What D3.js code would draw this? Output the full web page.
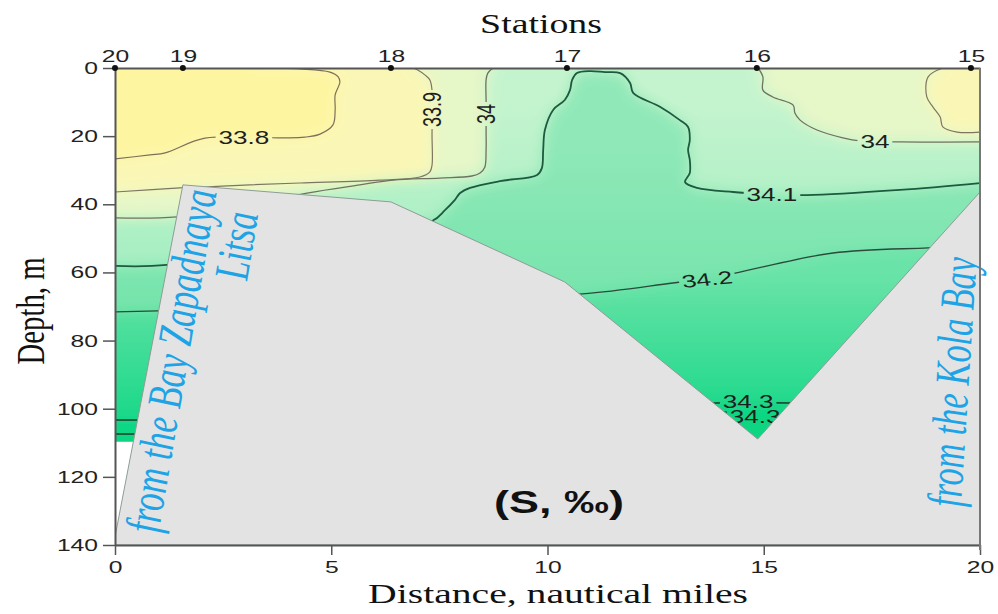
<!DOCTYPE html>
<html><head><meta charset="utf-8">
<script src="https://cdn.jsdelivr.net/npm/d3@7"></script>
<style>html,body{margin:0;padding:0;background:#fff;} svg{display:block;}</style>
</head><body>
<svg id="chart" width="998" height="614"></svg>
<script>
// ---------------- data (distance in nautical miles, depth in m) ----------------
const depthTicks = [0, 20, 40, 60, 80, 100, 120, 140];
const distanceTicks = [0, 5, 10, 15, 20];
const stationNames = ["20", "19", "18", "17", "16", "15"];
const stationDistances = [0, 1.57, 6.38, 10.45, 14.84, 19.79];
const bottomProfile = [[0, 137.6], [1.57, 34.3], [6.38, 39.3], [10.4, 62.8], [14.86, 108.9], [20, 36.4]];
const leftEdgeDataDepth = 109.7;

const iso33_8 = [[0,26.7],[0.81,25.5],[1.16,24.9],[2.08,20.6],[3.82,20.5],[4.39,20.3],[4.74,19.4],[5.04,16.7],[5.09,12.3],[5.09,7.9],[5.2,4.1],[5.16,2.6],[4.97,1.2],[4.28,0.3],[3.12,0]];
const iso33_9_west = [[0,36.4],[1.5,35.2],[2.61,34.6],[3.12,34.3],[4.28,33.75],[6.13,32.9],[7.05,32.0],[7.28,30.5],[7.33,28.5],[7.33,19.7],[7.33,6.5],[7.28,3.5],[7.17,2.1],[7.0,0.6],[6.89,0]];
const iso33_9_east = [[19.14,0],[18.8,2.6],[18.77,8.5],[18.91,11.4],[19.08,14.4],[19.14,17.3],[19.47,18.8],[20,18.8]];
const iso34_0_west = [[0,44.0],[1.43,43.7],[3.12,40.2],[4.44,36.7],[5.66,34.3],[6.43,32.9],[7.51,32.3],[8.25,31.7],[8.44,30.8],[8.55,29.1],[8.58,24.1],[8.58,18.2],[8.58,9.4],[8.58,3.5],[8.62,1.5],[8.74,0]];
const iso34_0_east = [[14.87,0],[14.98,2.6],[14.98,6.5],[15.21,8.5],[15.68,10.9],[15.72,13.2],[15.84,15.3],[16.23,18.2],[16.83,20.5],[17.23,21.4],[18.15,21.7],[20,21.7]];
const iso34_1 = [[0,58.1],[1.2,57.8],[4.28,50.5],[7.33,44.9],[7.63,41.7],[7.86,38.7],[7.98,36.7],[8.21,35.2],[8.9,33.2],[9.76,31.4],[9.87,29.4],[9.9,24.1],[9.94,18.2],[10.13,12.3],[10.4,9.4],[10.52,6.5],[10.57,3.5],[10.68,1.5],[10.98,0.9],[11.33,1.2],[11.68,1.5],[11.91,4.4],[11.98,7.3],[12.6,11.4],[13.06,15.3],[13.25,17.3],[13.29,21.1],[13.25,24.1],[13.29,27.0],[13.29,30.8],[13.18,33.5],[13.46,35.2],[14.29,36.4],[15.14,37.0],[16.0,37.3],[18.15,35.8],[20,33.8]];
const iso34_2 = [[0,71.6],[0.99,71.3],[6.59,68.1],[10.8,66.3],[12.9,63.1],[13.69,61.9],[14.45,59.9],[16.6,54.3],[18.8,52.8],[20,52.2]];
const iso34_3_upper = [[0,103.3],[0.46,103.3],[10,100],[13.9,98.3],[15.6,98.3],[20,98.3]];
const iso34_3_lower = [[0,107.4],[0.46,107.4],[10,104],[14.0,101.0],[16.0,101.0],[20,101.0]];

const contourLabelText = ["33.8", "33.9", "34", "34", "34.1", "34.2", "34.3", "34.3"];
const contourLabelDist = [2.98, 7.33, 8.57, 17.57, 15.19, 13.69, 14.64, 14.8];
const contourLabelDepth = [20.4, 12.2, 13.5, 21.7, 37.2, 62.0, 98.0, 102.2];

// ---------------- rendering ----------------
const SX = 1.45;       // horizontal stretch of the original picture
const W = 998, H = 614;
const svg = d3.select('#chart');
const x = d3.scaleLinear().domain([0, 20]).range([115, 980]);
const y = d3.scaleLinear().domain([0, 140]).range([68, 545]);

const defs = svg.append('defs');
defs.append('clipPath').attr('id', 'plotClip').append('rect')
  .attr('x', x(0)).attr('y', y(0)).attr('width', x(20) - x(0)).attr('height', y(140) - y(0));
const filt = defs.append('filter').attr('id', 'soft').attr('x', '-10%').attr('y', '-10%').attr('width', '120%').attr('height', '120%');
filt.append('feGaussianBlur').attr('stdDeviation', 7);
const mask = defs.append('mask').attr('id', 'lblMask').attr('maskUnits', 'userSpaceOnUse')
  .attr('x', 0).attr('y', 0).attr('width', W).attr('height', H);
mask.append('rect').attr('x', 0).attr('y', 0).attr('width', W).attr('height', H).attr('fill', '#fff');

function vGrad(id, d0, c0, d1, c1) {
  const g = defs.append('linearGradient').attr('id', id).attr('gradientUnits', 'userSpaceOnUse')
    .attr('x1', 0).attr('x2', 0).attr('y1', y(d0)).attr('y2', y(d1));
  g.append('stop').attr('offset', 0).attr('stop-color', c0);
  g.append('stop').attr('offset', 1).attr('stop-color', c1);
  return `url(#${id})`;
}

// fill bands
const bands = [
  { line: iso34_3_lower, side: 'both', color: '#10d785' },
  { line: iso34_3_upper, side: 'both', color: vGrad('g342', 60, '#6ae3a8', 104, '#18d888') },
  { line: iso34_2, side: 'both', color: vGrad('g341', 20, '#90e8b8', 70, '#76e4ac') },
  { line: iso34_1, side: 'both', color: vGrad('g340', 10, '#c4f4ce', 58, '#a6efc2') },
  { line: iso34_0_west, side: 'west', color: '#e6f7c8' },
  { line: iso34_0_east, side: 'east', color: '#e6f7c8' },
  { line: iso33_9_west, side: 'west', color: '#faf7b6' },
  { line: iso33_9_east, side: 'east', color: '#faf7b6' },
  { line: iso33_8, side: 'west', color: '#fef5a0' }
];
function closeBand(b) {
  const L = b.line, f = L[0], l = L[L.length - 1];
  if (b.side === 'both') return [[-2, f[1]], ...L, [22, l[1]], [22, -10], [-2, -10]];
  if (b.side === 'west') return [[-2, f[1]], ...L, [l[0], -10], [-2, -10]];
  return [[f[0], -10], ...L, [22, l[1]], [22, -10]];
}
const polyGen = d3.line().x(p => x(p[0])).y(p => y(p[1]));
const fillG = svg.append('g').attr('clip-path', 'url(#plotClip)');
const blurG = fillG.append('g').attr('filter', 'url(#soft)');
blurG.append('rect').attr('x', x(-2)).attr('y', y(-10)).attr('width', x(22) - x(-2)).attr('height', y(150) - y(-10)).attr('fill', '#08d582');
bands.forEach(b => blurG.append('path').attr('d', polyGen(closeBand(b)) + 'Z').attr('fill', b.color));

// white area below data at left edge
fillG.append('rect').attr('x', x(0)).attr('y', y(leftEdgeDataDepth))
  .attr('width', x(1.6) - x(0)).attr('height', y(140) - y(leftEdgeDataDepth)).attr('fill', '#fff');

// contour lines
const lineGen = d3.line().x(p => x(p[0])).y(p => y(p[1])).curve(d3.curveCatmullRom.alpha(0.5));
const lineStyles = [
  { line: iso33_8, stroke: '#7e7058', w: 1.2 },
  { line: iso33_9_west, stroke: '#7e7660', w: 1.2 },
  { line: iso33_9_east, stroke: '#7e7660', w: 1.2 },
  { line: iso34_0_west, stroke: '#6f7260', w: 1.3 },
  { line: iso34_0_east, stroke: '#6f7260', w: 1.3 },
  { line: iso34_1, stroke: '#1d5a3e', w: 1.8 },
  { line: iso34_2, stroke: '#2a4a3a', w: 1.3 },
  { line: iso34_3_upper, stroke: '#1e3a2c', w: 1.5 },
  { line: iso34_3_lower, stroke: '#1e3a2c', w: 1.5 }
];
const linesG = svg.append('g').attr('clip-path', 'url(#plotClip)').append('g').attr('mask', 'url(#lblMask)');
lineStyles.forEach(s => linesG.append('path').attr('d', lineGen(s.line)).attr('fill', 'none')
  .attr('stroke', s.stroke).attr('stroke-width', s.w).attr('stroke-linejoin', 'round'));

// contour labels
const labelAngles = [0, -90, -90, 0, 0, -8, 0, 0];
const labG = svg.append('g').attr('font-family', '"Liberation Sans", Arial, sans-serif').attr('font-size', 18).attr('fill', '#1e1e1e');
contourLabelText.forEach((t, i) => {
  const tf = `translate(${x(contourLabelDist[i])},${y(contourLabelDepth[i])}) scale(${SX},1) rotate(${labelAngles[i]})`;
  const el = labG.append('text').attr('transform', tf).attr('text-anchor', 'middle').attr('dy', '0.35em').text(t);
  const bb = el.node().getBBox();
  mask.append('rect').attr('transform', tf).attr('x', bb.x - 2).attr('y', bb.y + 1)
    .attr('width', bb.width + 4).attr('height', bb.height - 2).attr('fill', '#000');
});

// sea bottom
const bottomPoly = [[0, 140], ...bottomProfile, [20, 140]];
svg.append('path').attr('d', polyGen(bottomPoly) + 'Z').attr('fill', '#e3e3e3')
  .attr('stroke', '#8f9c95').attr('stroke-width', 1).attr('clip-path', 'url(#plotClip)');

// blue annotations
function sText(g, px, py, ang, str) {
  return g.append('text').attr('transform', `translate(${px},${py}) scale(${SX},1) rotate(${ang})`).text(str);
}
const blue = svg.append('g').attr('font-family', '"Liberation Serif", "Times New Roman", serif')
  .attr('font-style', 'italic').attr('font-size', 34).attr('fill', '#1ea3e6').attr('text-anchor', 'middle');
sText(blue, 173, 361, -83.3, 'from the Bay Zapadnaya').attr('dy', '0.3em').attr('textLength', 345).attr('lengthAdjust', 'spacingAndGlyphs');
sText(blue, 238, 246, -83.3, 'Litsa').attr('dy', '0.3em');
sText(blue, 954, 382, -87.5, 'from the Kola Bay').attr('dy', '0.3em').attr('textLength', 250).attr('lengthAdjust', 'spacingAndGlyphs');

// (S, ‰)
sText(svg, 559, 502, 0, '(S, ‰)').attr('font-family', '"Liberation Sans", Arial, sans-serif').attr('font-weight', 'bold')
  .attr('font-size', 31).attr('fill', '#111').attr('text-anchor', 'middle').attr('dy', '0.36em');

// axes
function stretchAxisText(g) {
  g.selectAll('.tick text').each(function () {
    const t = d3.select(this);
    const xx = +t.attr('x') || 0, yy = +t.attr('y') || 0;
    t.attr('x', 0).attr('y', 0).attr('transform', `translate(${xx},${yy}) scale(${SX},1)`);
  });
  g.selectAll('text').attr('font-family', '"Liberation Sans", Arial, sans-serif').attr('font-size', 17).attr('fill', '#222');
  g.attr('font-size', 17);
}
const gL = svg.append('g').attr('transform', `translate(${x(0)},0)`)
  .call(d3.axisLeft(y).tickValues(depthTicks).tickSize(12).tickSizeOuter(0).tickPadding(5));
const gB = svg.append('g').attr('transform', `translate(0,${y(140)})`)
  .call(d3.axisBottom(x).tickValues(distanceTicks).tickSize(10).tickSizeOuter(0).tickPadding(6));
const gT = svg.append('g').attr('transform', `translate(0,${y(0)})`)
  .call(d3.axisTop(x).tickValues(stationDistances).tickFormat((d, i) => stationNames[i]).tickSize(0).tickPadding(6));
[gL, gB, gT].forEach(g => {
  stretchAxisText(g);
  g.select('.domain').attr('stroke', '#555').attr('stroke-width', 2);
  g.selectAll('.tick line').attr('stroke', '#555').attr('stroke-width', 1.5);
});
svg.append('line').attr('x1', x(20)).attr('x2', x(20)).attr('y1', y(0)).attr('y2', y(140) + 5)
  .attr('stroke', '#777').attr('stroke-width', 2);
svg.append('g').selectAll('circle').data(stationDistances).join('circle')
  .attr('cx', d => x(d)).attr('cy', y(0)).attr('r', 3).attr('fill', '#111');

// titles
const serif = '"Liberation Serif", "Times New Roman", serif';
sText(svg, 541, 33, 0, 'Stations').attr('font-family', serif).attr('font-size', 27).attr('fill', '#111')
  .attr('text-anchor', 'middle').attr('textLength', 84).attr('lengthAdjust', 'spacingAndGlyphs');
sText(svg, 558, 603, 0, 'Distance, nautical miles').attr('font-family', serif).attr('font-size', 27).attr('fill', '#111')
  .attr('text-anchor', 'middle').attr('textLength', 262).attr('lengthAdjust', 'spacingAndGlyphs');
sText(svg, 32, 311, -90, 'Depth, m').attr('font-family', serif).attr('font-size', 28).attr('fill', '#111')
  .attr('text-anchor', 'middle').attr('dy', '0.3em').attr('textLength', 107).attr('lengthAdjust', 'spacingAndGlyphs');
</script>
</body></html>
